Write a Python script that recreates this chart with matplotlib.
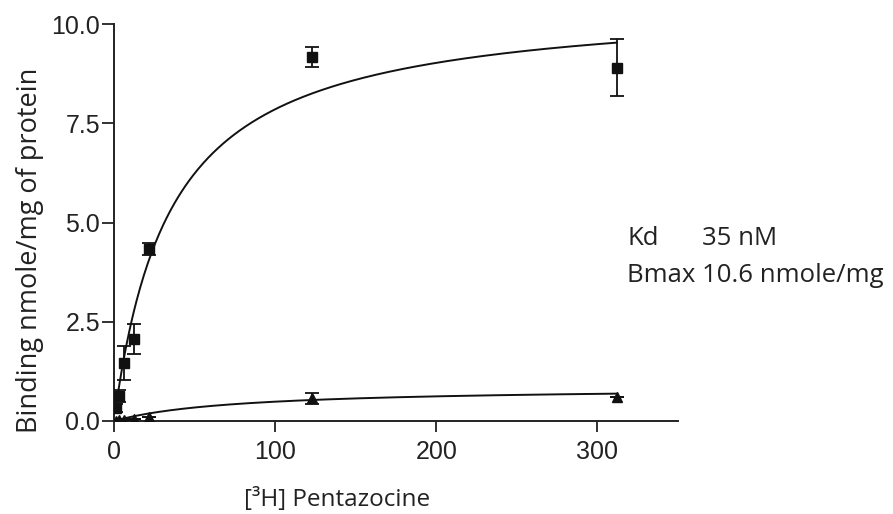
import numpy as np
import matplotlib
matplotlib.use("Agg")
import matplotlib.pyplot as plt

# ---- data ----
conc = [1.5, 3, 6, 12.5, 22, 123, 312]
total_binding = [0.32, 0.62, 1.46, 2.07, 4.34, 9.17, 8.90]
total_err = [0.10, 0.15, 0.42, 0.38, 0.15, 0.25, 0.72]
nonspecific = [0.01, 0.02, 0.03, 0.05, 0.11, 0.57, 0.60]
nonspecific_err = [0.0, 0.0, 0.0, 0.0, 0.0, 0.13, 0.0]

kd_total, bmax_total = 35.0, 10.6
kd_ns, bmax_ns = 76.0, 0.857

xticks = [0, 100, 200, 300]
yticks = [0.0, 2.5, 5.0, 7.5, 10.0]

W, H = 893, 514
fig = plt.figure(figsize=(W / 100, H / 100), dpi=100)
ax_l, ax_r, ax_t, ax_b = 114, 678, 24, 421
ax = fig.add_axes([ax_l / W, 1 - ax_b / H, (ax_r - ax_l) / W, (ax_b - ax_t) / H])

xf = np.linspace(min(conc), max(conc), 400)
ax.plot(xf, bmax_total * xf / (kd_total + xf), color="#111111", lw=1.4, zorder=2)
xf2 = np.linspace(0, max(conc), 400)
ax.plot(xf2, bmax_ns * xf2 / (kd_ns + xf2), color="#111111", lw=1.4, zorder=2)

ax.errorbar(conc, total_binding, yerr=total_err, fmt="s", color="#111111",
            ms=6.5, capsize=5, elinewidth=1.3, capthick=1.3, zorder=3)
ax.errorbar(conc, nonspecific, yerr=nonspecific_err, fmt="^", color="#111111",
            ms=6.5, capsize=5, elinewidth=1.3, capthick=1.3, zorder=3)

ax.set_xlim(0, 350)
ax.set_ylim(0, 10)
ax.set_xticks(xticks)
ax.set_yticks(yticks)
ax.set_yticklabels([f"{v:.1f}" for v in yticks])
for s in ["top", "right"]:
    ax.spines[s].set_visible(False)
for s in ["left", "bottom"]:
    ax.spines[s].set_linewidth(1.4)
    ax.spines[s].set_color("#222222")

ax.tick_params(axis="both", direction="out", width=1.3, color="#222222",
               labelsize=18, labelcolor="#222222")
ax.tick_params(axis="y", length=9, pad=1)
ax.tick_params(axis="x", length=8, pad=6)
for lab in ax.get_xticklabels() + ax.get_yticklabels():
    lab.set_fontfamily("Liberation Sans")

ax.set_xlabel("[³H] Pentazocine", family="Open Sans", size=17.5, color="#222222",
              va="baseline")
ax.xaxis.set_label_coords((337.5 - ax_l) / (ax_r - ax_l), -(506 - ax_b) / (ax_b - ax_t))
ax.set_ylabel("Binding nmole/mg of protein", family="Open Sans", size=19.5,
              color="#222222", va="baseline")
ax.yaxis.set_label_coords((37 - ax_l) / (ax_r - ax_l), (ax_b - 250) / (ax_b - ax_t))

lab_font = dict(family="Open Sans", size=18.5, color="#222222")
fig.text(627 / W, 1 - 245 / H, "Kd", ha="left", va="baseline", **lab_font)
fig.text(702 / W, 1 - 245 / H, "35 nM", ha="left", va="baseline", **lab_font)
fig.text(627 / W, 1 - 282 / H, "Bmax 10.6 nmole/mg", ha="left", va="baseline", **lab_font)

fig.savefig("out.png", dpi=100, facecolor="white")
